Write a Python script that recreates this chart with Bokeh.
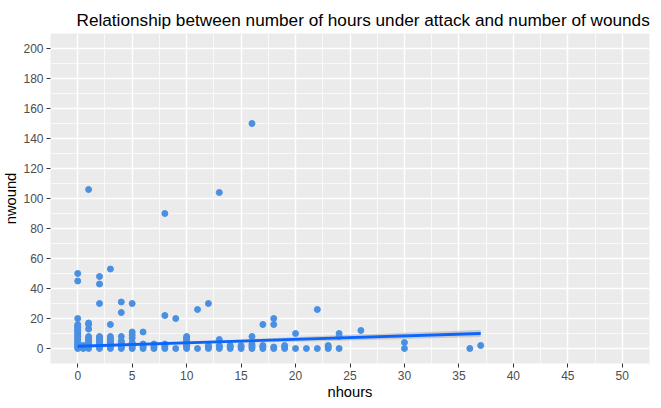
from bokeh.plotting import figure
from bokeh.models import FixedTicker, Range1d
from bokeh.embed import file_html
from bokeh.resources import INLINE

# ---- data ----
nhours = (
    [0] * 20 + [0.5] * 2 + [1] * 13 + [2] * 12 + [3] * 11 + [4] * 9 + [5] * 9
    + [6] * 5 + [7] * 4 + [8] * 6 + [9] * 2 + [10] * 9 + [11] * 2 + [12] * 4
    + [13] * 5 + [14] * 3 + [15] * 3 + [16] * 6 + [17] * 4 + [18] * 4 + [19] * 3
    + [20] * 2 + [21] + [22] * 2 + [23] * 3 + [24] * 3 + [26] + [30] * 2 + [36] + [37]
)
nwound = [
    0, 1, 2, 3, 4, 5, 6, 7, 8, 9, 10, 11, 12, 13, 14, 15, 16, 20, 45, 50,
    0, 2,
    0, 1, 2, 3, 4, 5, 6, 7, 8, 13, 16, 17, 106,
    0, 1, 2, 3, 4, 5, 6, 7, 8, 30, 43, 48,
    0, 1, 2, 3, 4, 5, 6, 7, 8, 16, 53,
    0, 1, 2, 3, 4, 5, 8, 24, 31,
    0, 1, 2, 3, 4, 7, 9, 11, 30,
    0, 1, 2, 3, 11,
    0, 1, 2, 3,
    0, 1, 2, 3, 22, 90,
    0, 20,
    0, 1, 2, 3, 4, 5, 6, 7, 8,
    0, 26,
    0, 1, 2, 30,
    0, 1, 2, 6, 104,
    0, 1, 2,
    0, 1, 2,
    0, 1, 2, 3, 8, 150,
    0, 1, 2, 16,
    0, 1, 16, 20,
    0, 1, 2,
    0, 10,
    0,
    0, 26,
    0, 1, 2,
    0, 8, 10,
    12,
    0, 4,
    0,
    2,
]
assert len(nhours) == len(nwound)

# fitted line (lm) and its confidence band
fit_hours = [0, 37]
fit_wound = [1.5, 10.0]
band_hours = [0, 5, 10, 15, 20, 25, 30, 37]
band_lower = [0.8, 2.1, 3.2, 3.9, 4.5, 5.4, 6.3, 7.7]
band_upper = [2.2, 3.2, 4.4, 6.0, 7.7, 9.1, 10.5, 12.3]

x_ticks = [0, 5, 10, 15, 20, 25, 30, 35, 40, 45, 50]
x_minor = [2.5, 7.5, 12.5, 17.5, 22.5, 27.5, 32.5, 37.5, 42.5, 47.5]
y_ticks = [0, 20, 40, 60, 80, 100, 120, 140, 160, 180, 200]
y_minor = [10, 30, 50, 70, 90, 110, 130, 150, 170, 190]

title_text = "Relationship between number of hours under attack and number of wounds"
x_title = "nhours"
y_title = "nwound"

FONT = "Liberation Sans"

p = figure(
    frame_width=599, frame_height=330,
    x_range=Range1d(-2.5, 52.5), y_range=Range1d(-10, 210),
    output_backend="svg", toolbar_location=None,
    min_border_left=50, min_border_right=12, min_border_top=33, min_border_bottom=45,
    title=title_text,
)
p.background_fill_color = "#EBEBEB"
p.border_fill_color = "white"
p.outline_line_color = None

p.title.text_font = FONT
p.title.text_font_size = "17.2px"
p.title.text_font_style = "normal"
p.title.text_color = "black"
p.title.align = "left"
p.title.offset = 26
p.title.standoff = 8

p.xaxis.ticker = FixedTicker(ticks=x_ticks, minor_ticks=x_minor)
p.yaxis.ticker = FixedTicker(ticks=y_ticks, minor_ticks=y_minor)
p.xaxis.axis_label = x_title
p.yaxis.axis_label = y_title

for g in (p.xgrid, p.ygrid):
    g.grid_line_color = "white"
    g.grid_line_width = 1.4
    g.minor_grid_line_color = "white"
    g.minor_grid_line_width = 0.7

for ax in (p.xaxis, p.yaxis):
    ax.axis_line_color = None
    ax.major_tick_line_color = "#333333"
    ax.major_tick_line_width = 1
    ax.major_tick_out = 4
    ax.major_tick_in = 0
    ax.minor_tick_line_color = None
    ax.major_label_text_font = FONT
    ax.major_label_text_font_size = "12px"
    ax.major_label_text_color = "#4D4D4D"
    ax.major_label_standoff = 3
    ax.axis_label_text_font = FONT
    ax.axis_label_text_font_size = "14.7px"
    ax.axis_label_text_font_style = "normal"
    ax.axis_label_text_color = "black"
    ax.axis_label_standoff = 1

p.scatter(nhours, nwound, size=6, color="#4A90E2")
p.varea(x=band_hours, y1=band_lower, y2=band_upper, fill_color="#999999", fill_alpha=0.4)
p.line(fit_hours, fit_wound, line_color="#0A66FF", line_width=2.8)

open("out.html", "w").write(file_html(p, INLINE))
